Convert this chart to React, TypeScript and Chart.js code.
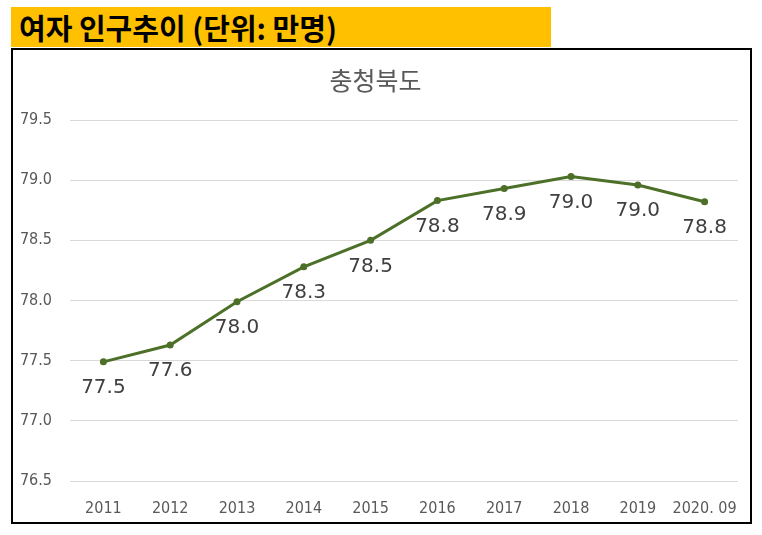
import React, { useEffect, useRef } from 'react';
import { Chart, registerables } from 'chart.js';

Chart.register(...registerables);

const years = ['2011', '2012', '2013', '2014', '2015', '2016', '2017', '2018', '2019', '2020. 09'];
const population = [77.49, 77.63, 77.99, 78.28, 78.5, 78.83, 78.93, 79.03, 78.96, 78.82];
const valueLabels = ['77.5', '77.6', '78.0', '78.3', '78.5', '78.8', '78.9', '79.0', '79.0', '78.8'];

const lineColor = '#4C7028';
const tickFont = '"Liberation Sans Narrow", "DejaVu Sans Condensed", sans-serif';

const pointLabels = {
    id: 'pointLabels',
    afterDatasetsDraw(chart: any) {
        const ctx = chart.ctx;
        const meta = chart.getDatasetMeta(0);
        ctx.save();
        ctx.font = '20px "DejaVu Sans", sans-serif';
        ctx.fillStyle = '#404040';
        ctx.textAlign = 'center';
        ctx.textBaseline = 'middle';
        meta.data.forEach((pt: any, i: number) => {
            ctx.fillText(valueLabels[i], pt.x, pt.y + 26);
        });
        ctx.restore();
    }
};

const App: React.FC = () => {
    const chartRef = useRef<HTMLCanvasElement>(null);
    const chartInstance = useRef<Chart | null>(null);

    useEffect(() => {
        if (!chartRef.current) return;
        if (chartInstance.current) chartInstance.current.destroy();
        const ctx = chartRef.current.getContext('2d');
        if (!ctx) return;
        chartInstance.current = new Chart(ctx, {
            type: 'line',
            data: {
                labels: years,
                datasets: [{
                    data: population,
                    borderColor: lineColor,
                    backgroundColor: lineColor,
                    borderWidth: 3,
                    pointRadius: 3.5,
                    pointBorderWidth: 0,
                    tension: 0,
                }]
            },
            options: {
                responsive: true,
                maintainAspectRatio: false,
                animation: false,
                layout: { padding: { left: 0, right: 12, top: 0, bottom: 0 } },
                plugins: {
                    legend: { display: false },
                    tooltip: { enabled: false },
                    title: {
                        display: true,
                        text: '충청북도',
                        color: '#595959',
                        font: { family: '"Noto Sans CJK KR", sans-serif', size: 25, weight: 'normal' },
                        padding: { top: 15, bottom: 25 },
                    },
                },
                scales: {
                    x: {
                        offset: true,
                        afterFit: (scale: any) => { scale.height = 41; },
                        grid: { display: false },
                        border: { display: false },
                        ticks: {
                            color: '#595959',
                            font: { family: tickFont, size: 16 },
                            padding: 10,
                            maxRotation: 0,
                            autoSkip: false,
                        },
                    },
                    y: {
                        min: 76.5,
                        max: 79.5,
                        afterFit: (scale: any) => { scale.width = 57; },
                        grid: { color: '#D9D9D9', lineWidth: 1, drawTicks: false },
                        border: { display: false },
                        ticks: {
                            stepSize: 0.5,
                            color: '#595959',
                            font: { family: tickFont, size: 16 },
                            padding: 18,
                            callback: (v: any) => Number(v).toFixed(1),
                        },
                    },
                },
            },
            plugins: [pointLabels],
        });
        return () => {
            if (chartInstance.current) {
                chartInstance.current.destroy();
                chartInstance.current = null;
            }
        };
    }, []);

    return (
        <div style={{ position: 'absolute', left: 0, top: 0, width: 762, height: 535, background: '#fff' }}>
            <div style={{
                position: 'absolute', left: 11, top: 7, width: 540, height: 40, background: '#FFC000',
                fontFamily: '"Noto Sans CJK KR", sans-serif', fontWeight: 'bold', fontSize: 29,
                lineHeight: '40px', paddingLeft: 8, boxSizing: 'border-box', color: '#000',
                whiteSpace: 'nowrap',
            }}>
                여자 인구추이 (단위: 만명)
            </div>
            <div style={{
                position: 'absolute', left: 11, top: 48, width: 741, height: 476,
                border: '2px solid #000', boxSizing: 'border-box',
            }}>
                <div style={{ position: 'relative', width: 737, height: 472 }}>
                    <canvas ref={chartRef}></canvas>
                </div>
            </div>
        </div>
    );
};

export default App;
